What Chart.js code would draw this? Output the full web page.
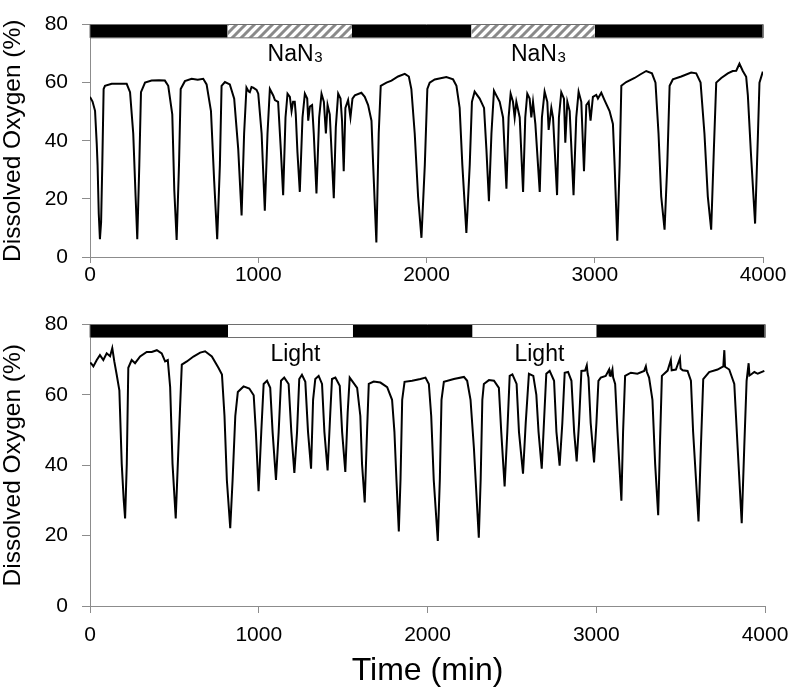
<!DOCTYPE html>
<html><head><meta charset="utf-8">
<script src="https://cdn.jsdelivr.net/npm/chart.js@4.4.1/dist/chart.umd.min.js"></script>
<style>
html,body{margin:0;padding:0;background:#fff;}
#wrap{position:relative;width:793px;height:692px;overflow:hidden;}
#c1{position:absolute;left:0;top:0;}
#c2{position:absolute;left:0;top:300px;}
</style></head><body>
<div id="wrap"><canvas id="c1" width="793" height="290"></canvas><canvas id="c2" width="793" height="392"></canvas></div>
<script>
// ---------- data ----------
const xTickValues = [0, 1000, 2000, 3000, 4000];
const yTickValues = [0, 20, 40, 60, 80];
const phaseEdges = [0, 818, 1557, 2267, 3000, 4000];
const topPhases = ['dark', 'NaN3', 'dark', 'NaN3', 'dark'];
const bottomPhases = ['dark', 'Light', 'dark', 'Light', 'dark'];

const topTime = [0,15,30,40,45,52,59,66,73,81,89,129,170,218,238,257,271,281,293,303,327,366,410,445,465,489,501,515,529,539,564,604,640,673,693,719,738,756,772,782,802,831,857,881,901,916,930,942,950,960,970,990,1000,1020,1039,1055,1069,1089,1099,1118,1134,1148,1162,1174,1188,1198,1207,1217,1223,1233,1247,1263,1277,1291,1297,1307,1320,1330,1346,1362,1376,1390,1402,1412,1425,1449,1461,1475,1489,1498,1508,1518,1534,1548,1560,1574,1613,1633,1653,1673,1683,1702,1716,1728,1762,1792,1831,1871,1895,1910,1930,1950,1970,1990,2005,2019,2049,2118,2158,2178,2197,2213,2237,2257,2270,2286,2316,2342,2356,2371,2386,2401,2415,2435,2455,2475,2488,2500,2514,2524,2534,2554,2574,2587,2599,2613,2623,2633,2647,2673,2686,2702,2718,2726,2742,2752,2776,2787,2801,2817,2825,2837,2851,2874,2890,2904,2920,2936,2950,2964,2975,2989,3009,3019,3039,3058,3088,3108,3118,3134,3148,3158,3187,3237,3270,3306,3340,3361,3379,3395,3415,3431,3445,3464,3514,3573,3603,3629,3652,3672,3692,3708,3722,3752,3791,3820,3841,3860,3880,3900,3910,3929,3953,3969,3979,3999];
const topOxygen = [55.1,53.5,50.3,39,31.7,15,6.1,12,31.7,57.8,58.9,59.6,59.6,59.6,56.7,42.5,20.9,6.1,31.7,56.7,60,60.7,60.8,60.7,58.9,49.1,23,5.9,31.7,57.8,60.5,61.3,61,61.3,59.4,50.2,26.2,6.1,31.7,58.9,60.2,59.4,54.5,37.1,14.3,42.5,58.3,57,56.7,58.5,58.3,57.5,56.2,42.5,15.9,42.5,57.8,55.6,54,53.4,37.1,21.3,48,56.2,55.1,50.2,53.4,53.4,49.1,36,22.4,48,56.2,54.5,46.9,51.8,52.3,42.5,21.9,48,56.2,53.4,42.5,52.3,49.1,20.2,44.7,56.2,54.5,46.9,29.5,51.3,54,48,54.5,55.6,56.5,55.1,52.3,46.9,31.7,5,42.5,58.9,60,60.7,62.1,63,62.1,57.8,42.5,20.8,6.6,31.7,57.8,60,61.1,61.9,61.1,58.9,51.3,31.7,8.3,31.7,53.4,56.9,54.5,51.3,37.1,19.2,42.5,57.2,55.6,53.4,48,23.5,48,56.2,53.4,48,53.4,48,22.4,48,56.2,54.5,48,53.4,45.8,22.4,48,56.9,53.4,43.7,51.3,48,21.3,48,56.7,54.5,39.3,53.4,50.2,21.3,48,56.9,53.4,29.5,52.3,53.4,46.9,55.1,55.8,54.5,56.5,54,50.2,45.8,31.7,5.6,31.7,58.9,60.2,61.6,62.8,64,63.2,60,42.5,20.8,9.4,31.7,58.9,61.1,62.1,63.5,63.2,60,42.5,20.8,9.4,37.1,60,61.6,63.2,64,64.1,66.5,64,62,55.6,34.9,11.5,40.4,60,63.8];

const bottomTime = [0,6,20,40,59,79,99,119,132,144,158,174,188,200,208,218,227,247,267,297,336,366,396,425,445,461,475,489,508,524,544,574,613,653,682,722,761,782,797,811,831,845,861,876,910,944,970,983,999,1015,1029,1049,1068,1082,1102,1118,1132,1151,1177,1193,1211,1227,1240,1256,1276,1292,1310,1322,1335,1355,1375,1389,1408,1424,1434,1454,1480,1494,1513,1527,1539,1553,1583,1602,1612,1628,1642,1652,1681,1721,1761,1790,1804,1816,1830,1840,1850,1864,1909,1958,1988,2008,2022,2037,2061,2073,2083,2097,2156,2216,2235,2255,2275,2304,2315,2325,2334,2364,2394,2423,2437,2457,2473,2487,2503,2528,2542,2566,2582,2601,2627,2645,2658,2677,2690,2704,2724,2750,2764,2783,2799,2813,2833,2853,2869,2884,2898,2912,2934,2944,2949,2954,2967,2987,3001,3013,3027,3056,3076,3080,3086,3096,3100,3112,3126,3149,3159,3171,3205,3244,3284,3294,3300,3313,3333,3349,3367,3377,3389,3423,3442,3447,3472,3496,3500,3512,3541,3561,3574,3606,3620,3634,3669,3719,3753,3759,3763,3788,3818,3838,3862,3877,3891,3903,3908,3917,3937,3957,3996];
const bottomOxygen = [69,69,68.1,69.9,71.3,69.9,71.8,71,73.3,69.5,65.8,61.3,40.4,30,24.9,40.4,67.7,69.9,69,70.9,72.2,72.2,72.7,71.8,69.5,69.9,62.2,40.4,24.9,44.9,68.6,69.5,70.9,72,72.4,70.9,67.7,65.8,54,35.8,22.1,35.8,54,60.8,62.4,61.8,59.9,49.5,32.6,49.5,63.1,64,62,49.5,35.8,49.5,64,64.9,63.1,49.5,37.8,49.5,64.5,65.7,63.7,49.5,39,58.6,64.5,65.4,63.1,49.5,38.5,55,64.5,64.9,62.6,49.5,38.1,55,64.9,64,62,54,40.4,29.4,50,63.1,63.8,63.5,62.2,58.6,49.5,35.8,21.2,35.8,58.6,63.7,64,64.5,64.9,63.1,54,35.8,18.5,35.8,58.6,63.7,64.5,65.1,64,58.6,44.9,19.4,35.8,58.6,63.1,64.2,64,62,49.5,34,49.5,65.4,65.8,63.1,49.5,37.6,52,66,65.4,60,49.5,39,52,66,66.8,64,49.5,39.9,52,66.3,66.5,64,49.5,41.1,52,66.8,66.9,68.4,66,64.9,52,40.8,52,64,64.9,65.4,67.2,65.5,65.4,67.2,65,63.1,49.5,29.9,49.5,65.4,66.3,66,66.8,68.1,66.5,64.9,58.6,40.4,25.8,45,65.4,66.9,69.9,67,67.2,70.4,67.5,67,66.8,64,49.5,24,45,64.5,66.5,67.2,68.1,72.7,68,67.2,63.1,44.9,23.5,45,64,69,65.5,65.8,66.5,66,66.8];

// ---------- style ----------
const FONT = '"Liberation Sans", Arial, Helvetica, sans-serif';
Chart.defaults.font.family = FONT;
const AXIS_GREY = '#8c8c8c';

function hatchPattern() {
  const s = 9;
  const c = document.createElement('canvas'); c.width = s; c.height = s;
  const g = c.getContext('2d');
  g.fillStyle = '#fff'; g.fillRect(0, 0, s, s);
  g.strokeStyle = '#8a8a8a'; g.lineWidth = 3;
  g.beginPath();
  g.moveTo(-2, s + 2); g.lineTo(s + 2, -2);
  g.moveTo(-2, 2); g.lineTo(2, -2);
  g.moveTo(s - 2, s + 2); g.lineTo(s + 2, s - 2);
  g.stroke();
  return g.createPattern(c, 'repeat');
}

function pts(xs, ys) { return xs.map((x, i) => ({x: x, y: ys[i]})); }

const phaseLabelPlugin = {
  id: 'phaseLabels',
  afterDatasetsDraw(chart, args, opts) {
    const xs = chart.scales.x, ys = chart.scales.y, ctx = chart.ctx;
    const base = ys.getPixelForValue(opts.bandBottom) + opts.gap;
    ctx.save();
    ctx.fillStyle = '#000';
    ctx.textBaseline = 'alphabetic';
    opts.phases.forEach((p, i) => {
      if (p === 'dark') return;
      const xm = xs.getPixelForValue((phaseEdges[i] + phaseEdges[i + 1]) / 2) + 5;
      if (p === 'NaN3') {
        ctx.font = '23px ' + FONT;
        const w1 = ctx.measureText('NaN').width;
        ctx.font = '15px ' + FONT;
        const w2 = ctx.measureText('3').width;
        const x0 = xm - (w1 + w2) / 2;
        ctx.font = '23px ' + FONT;
        ctx.textAlign = 'left';
        ctx.fillText('NaN', x0, base);
        ctx.font = '15px ' + FONT;
        ctx.fillText('3', x0 + w1 + 0.5, base + 1);
      } else {
        ctx.font = '23px ' + FONT;
        ctx.textAlign = 'center';
        ctx.fillText(p, xm, base);
      }
    });
    ctx.restore();
  }
};

function makeChart(id, cfg) {
  const hatch = hatchPattern();
  const datasets = [];
  datasets.push({
    data: [{x: 0, y: cfg.bandBottom}, {x: 0, y: 80}, {x: 4000, y: 80}, {x: 4000, y: cfg.bandBottom}, {x: 0, y: cfg.bandBottom}],
    showLine: true, borderColor: '#6e6e6e', borderWidth: 1, pointRadius: 0, fill: false, clip: false, tension: 0
  });
  datasets.push({
    data: pts(cfg.time, cfg.oxygen),
    showLine: true, borderColor: '#000', borderWidth: 2, pointRadius: 0, fill: false, tension: 0,
    borderJoinStyle: 'miter'
  });
  cfg.phases.forEach((p, i) => {
    datasets.push({
      data: [{x: phaseEdges[i], y: 80}, {x: phaseEdges[i + 1], y: 80}],
      showLine: true, borderWidth: 0, borderColor: 'rgba(0,0,0,0)', pointRadius: 0, tension: 0,
      backgroundColor: p === 'dark' ? '#000' : (p === 'NaN3' ? hatch : '#fff'),
      fill: {value: cfg.bandBottom}
    });
  });

  return new Chart(document.getElementById(id), {
    type: 'scatter',
    data: {datasets: datasets},
    plugins: [phaseLabelPlugin],
    options: {
      responsive: false,
      devicePixelRatio: 1,
      animation: false,
      events: [],
      layout: {padding: {top: cfg.padTop, right: cfg.padRight, left: 0, bottom: 0}},
      plugins: {
        legend: {display: false},
        tooltip: {enabled: false},
        phaseLabels: {phases: cfg.phases, bandBottom: cfg.bandBottom, gap: 23}
      },
      scales: {
        x: {
          type: 'linear', min: 0, max: 4000,
          afterBuildTicks: s => { s.ticks = xTickValues.map(v => ({value: v})); },
          afterFit: s => { s.height = cfg.xHeight; },
          ticks: {color: '#000', font: {size: 21, lineHeight: cfg.xTickLH}, padding: cfg.xTickPad, maxRotation: 0, autoSkip: false,
                  callback: v => String(v)},
          grid: {drawOnChartArea: false, drawTicks: true, tickLength: cfg.xTickLen, color: AXIS_GREY, lineWidth: 1},
          border: {display: true, color: AXIS_GREY, width: 1},
          title: cfg.xTitle ? {display: true, text: cfg.xTitle, color: '#000', font: {size: 32, lineHeight: 1.2}, padding: {top: 0, bottom: 2}} : {display: false}
        },
        y: {
          type: 'linear', min: 0, max: 80,
          afterBuildTicks: s => { s.ticks = yTickValues.map(v => ({value: v})); },
          afterFit: s => { s.width = 90; },
          ticks: {color: '#000', font: {size: 21, lineHeight: 1}, padding: 14, callback: v => String(v)},
          grid: {drawOnChartArea: false, drawTicks: true, tickLength: 8, color: AXIS_GREY, lineWidth: 1},
          border: {display: true, color: AXIS_GREY, width: 1},
          title: {display: true, text: 'Dissolved Oxygen (%)', color: '#000', font: {size: 24.5, lineHeight: 1}, padding: {top: 1, bottom: 0}}
        }
      }
    }
  });
}

makeChart('c1', {
  time: topTime, oxygen: topOxygen, phases: topPhases, bandBottom: 75.4,
  padTop: 12, padRight: 30, xHeight: 33, xTickLen: 6, xTickPad: 2, xTickLH: 1, xTitle: null
});
makeChart('c2', {
  time: bottomTime, oxygen: bottomOxygen, phases: bottomPhases, bandBottom: 76.3,
  padTop: 13, padRight: 28, xHeight: 86, xTickLen: 7, xTickPad: 1.5, xTickLH: 2, xTitle: 'Time (min)'
});
</script>
</body></html>
